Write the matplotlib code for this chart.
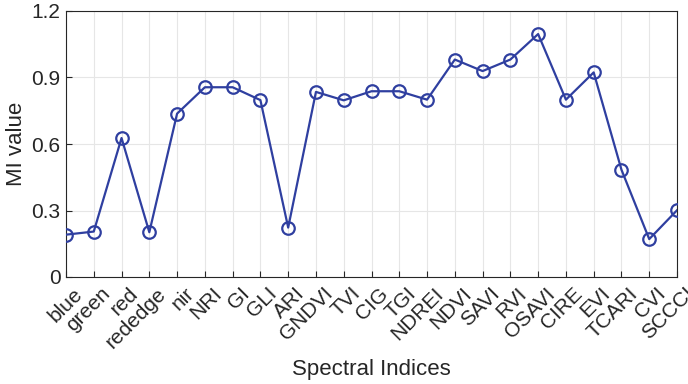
import matplotlib
matplotlib.use("Agg")
import matplotlib.pyplot as plt
from matplotlib.transforms import ScaledTranslation

plt.rcParams['font.family'] = ['Liberation Sans', 'DejaVu Sans']

categories = ['blue', 'green', 'red', 'rededge', 'nir', 'NRI', 'GI', 'GLI', 'ARI',
              'GNDVI', 'TVI', 'CIG', 'TGI', 'NDREI', 'NDVI', 'SAVI', 'RVI', 'OSAVI',
              'CIRE', 'EVI', 'TCARI', 'CVI', 'SCCCI']
mi_values = [0.191, 0.205, 0.627, 0.202, 0.737, 0.856, 0.856, 0.798, 0.223,
             0.835, 0.797, 0.838, 0.838, 0.800, 0.981, 0.929, 0.981, 1.096,
             0.800, 0.923, 0.484, 0.171, 0.301]
y_ticks = [0, 0.3, 0.6, 0.9, 1.2]
y_tick_labels = ['0', '0.3', '0.6', '0.9', '1.2']

fig = plt.figure(figsize=(6.88, 3.84), dpi=100)
ax = fig.add_axes([66/688, 1 - 277/384, (677-66)/688, (277-11)/384])

x = list(range(1, len(categories) + 1))
ax.plot(x, mi_values, color='#2F3FA0', linewidth=1.6, marker='o', markersize=9,
        markerfacecolor='none', markeredgewidth=1.6, zorder=3)

ax.set_xlim(1, len(categories))
ax.set_ylim(0, 1.2)
ax.set_xticks(x)
ax.set_xticklabels([''] * len(categories))
off = ScaledTranslation(7/100, -7/100, fig.dpi_scale_trans)
trans = ax.get_xaxis_transform() + off
for xi, name in zip(x, categories):
    ax.text(xi, 0, name, transform=trans, rotation=45, ha='right', va='top',
            rotation_mode='anchor', fontsize=15, color='#262626', clip_on=False)
ax.set_yticks(y_ticks)
ax.set_yticklabels(y_tick_labels, fontsize=15)
ax.tick_params(direction='in', length=4, width=0.8, colors='#262626', pad=4)
ax.grid(True, color='#E6E6E6', linewidth=0.8, zorder=0)
ax.set_axisbelow(True)
for s in ax.spines.values():
    s.set_color('#262626')
    s.set_linewidth(0.8)
ax.set_ylabel('MI value', fontsize=16, color='#262626', labelpad=3)
ax.set_xlabel('Spectral Indices', fontsize=16, color='#262626')
ax.xaxis.set_label_coords(0.5, -(370 - 277) / 266, transform=ax.transAxes)
ax.xaxis.label.set_va('center')

fig.savefig('out.png', dpi=100)
